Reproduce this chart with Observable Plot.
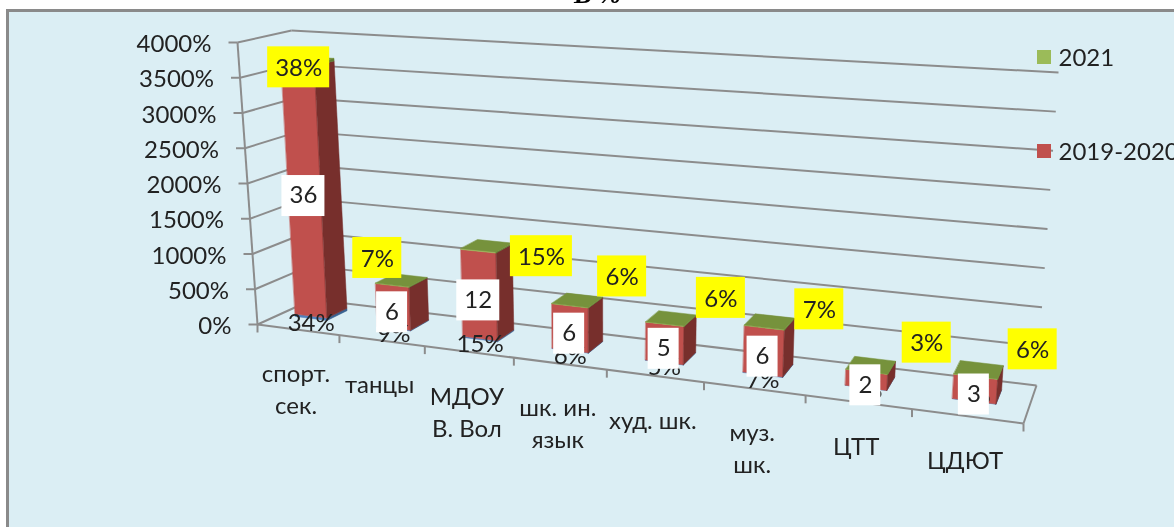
<!DOCTYPE html>
<html><head><meta charset="utf-8">
<script src="https://cdn.jsdelivr.net/npm/d3@7"></script>
<script src="https://cdn.jsdelivr.net/npm/@observablehq/plot@0.6"></script>
<style>html,body{margin:0;padding:0;background:#fff;overflow:hidden}svg{display:block}</style>
</head><body><div id="chart"></div>
<script>
// --- data ---
const categories = ["спорт.\nсек.", "танцы", "МДОУ\nВ. Вол", "шк. ин.\nязык", "худ. шк.", "муз.\nшк.", "ЦТТ", "ЦДЮТ"];
const baseValues = [34, 9, 15, 6, 5, 7, 2, 3];       // lower series, in %, mostly hidden
const midValues = [36, 6, 12, 6, 5, 6, 2, 3];        // 2019-2020, plotted as units (1 = 100%)
const topValues = [38, 7, 15, 6, 6, 7, 3, 6];        // 2021, in %
const valueTicks = [0, 500, 1000, 1500, 2000, 2500, 3000, 3500, 4000];
const legendNames = ["2021", "2019-2020"];

// --- hand-placed yellow labels in the original: pixel nudges from the bar's top ---
const topLabelNudge = [[1,5],[-15,-27],[63,6],[52,-29],[56,-26],[55,-18],[60,-29],[57,-27]];
const baseLabelNudge = [5,5,5,5,5,5,2,-6];

// --- perspective box of the 3D chart ---
const W = 1174, H = 527;
const box = {fbl:[257,324], ftl:[237,42], bbl:[312,299], btl:[291,30],
             fbr:[1023,423], ftr:[1048,83], bbr:[1036,385], btr:[1058,72]};
const nCat = categories.length;
const warp = u => { const b = -0.0202, a = (1 + nCat*b)/nCat; return a*u/(1 + b*u); };
const lerp = (p, q, t) => [p[0] + (q[0]-p[0])*t, p[1] + (q[1]-p[1])*t];
function project(u, v, d) {
  const t = warp(u), s = v/4000;
  const fb = lerp(box.fbl, box.fbr, t), ft = lerp(box.ftl, box.ftr, t);
  const bb = lerp(box.bbl, box.bbr, t), bt = lerp(box.btl, box.btr, t);
  return lerp(lerp(fb, ft, s), lerp(bb, bt, s), d);
}
// the columns lean slightly less than the wall edge on the left side
const barProject = (u, v, d) => { const p = project(u, v, d); return [p[0] + 4*(v/4000)*(1 - warp(u)), p[1]]; };

const barStart = i => i + 0.2 + 0.015*i, barWidth = 0.4, d0 = 0.4, d1 = 0.78;
const colors = {
  base: {front:"#4f81bd", side:"#3a6291"},
  mid:  {front:"#c0504d", side:"#772f2c"},
  top:  {front:"#9bbb59", side:"#5f7a32", cap:"#76923c"}
};

// polygons of the bars
const polys = [];
let pid = 0;
function poly(pts, fill) { const id = pid++; pts.forEach(p => polys.push({id, x:p[0], y:p[1], fill})); }
categories.forEach((c, i) => {
  const u0 = barStart(i), u1 = u0 + barWidth, P = barProject;
  const segs = [[0, baseValues[i], colors.base], [baseValues[i], baseValues[i] + midValues[i]*100, colors.mid],
                [baseValues[i] + midValues[i]*100, baseValues[i] + midValues[i]*100 + topValues[i], colors.top]];
  for (const [a, b, col] of segs) {
    poly([P(u0,a,d0), P(u1,a,d0), P(u1,b,d0), P(u0,b,d0)], col.front);
    poly([P(u1,a,d0), P(u1,a,d1), P(u1,b,d1), P(u1,b,d0)], col.side);
    if (col.cap) poly([P(u0,b,d0), P(u1,b,d0), P(u1,b,d1), P(u0,b,d1)], col.cap);
  }
});

const total = i => baseValues[i] + midValues[i]*100 + topValues[i];
const rows = categories.map((c, i) => {
  const uc = barStart(i) + barWidth/2;
  const mid = barProject(uc, baseValues[i] + midValues[i]*50, d0);
  const topP = barProject(uc, total(i), d0);
  const baseP = barProject(uc, 0, d0);
  const floor = project(i + 0.5, 0, 0);
  const n = topLabelNudge[i];
  return {i, c, mid:[mid[0]-1, mid[1]+3], base:[baseP[0], baseP[1]+baseLabelNudge[i]], floor:[floor[0]-2, floor[1]],
    top:[topP[0]+n[0], topP[1]+n[1]],
    midText:String(midValues[i]), topText:topValues[i]+"%", baseText:baseValues[i]+"%"};
});
function whiteW(d){ return d.midText.length > 1 ? 43 : 31; }
function yellowW(d){ return d.topText.length > 2 ? 62 : 49; }

const gridBack = valueTicks.map(v => ({a:project(0,v,1), b:project(nCat,v,1)}));
const gridLeft = valueTicks.map(v => ({a:project(0,v,0), b:project(0,v,1)}));
const edges = [
  {a:project(0,0,0), b:project(0,4000,0)},
  {a:project(0,0,0), b:project(nCat,0,0)},
  {a:project(nCat,0,0), b:project(nCat,0,1)}
];
const catTicks = d3.range(nCat+1).map(u => project(u,0,0));
const gray = "#8c8c8c";
const fam = "Lato, 'Open Sans', sans-serif";
const fs = 24;

const chart = Plot.plot({
  width: W, height: H, margin: 0,
  x: {type:"linear", domain:[0,W], range:[0,W], axis:null},
  y: {type:"linear", domain:[0,H], range:[0,H], axis:null},
  color: {type:"identity"},
  style: {background:"#fff", fontFamily:fam, filter:"blur(0.4px)"},
  marks: [
    // panel
    Plot.rect([{}], {x1:()=>7.5, x2:()=>W+20, y1:()=>10.5, y2:()=>H+20, fill:"#dbeef4", stroke:"#8a8a8a", strokeWidth:3}),
    Plot.text(["В %"], {x:()=>597, y:()=>2, text:d=>d, lineAnchor:"bottom", fontFamily:"'Liberation Serif', serif", fontWeight:"bold", fontStyle:"italic", fontSize:27, fill:"#000"}),
    // walls and floor
    Plot.link(gridBack, {x1:d=>d.a[0], y1:d=>d.a[1], x2:d=>d.b[0], y2:d=>d.b[1], stroke:gray, strokeWidth:2}),
    Plot.link(gridLeft, {x1:d=>d.a[0], y1:d=>d.a[1], x2:d=>d.b[0], y2:d=>d.b[1], stroke:gray, strokeWidth:2}),
    Plot.link(edges, {x1:d=>d.a[0], y1:d=>d.a[1], x2:d=>d.b[0], y2:d=>d.b[1], stroke:gray, strokeWidth:2}),
    // ticks
    Plot.link(gridLeft, {x1:d=>d.a[0]-9, y1:d=>d.a[1], x2:d=>d.a[0], y2:d=>d.a[1], stroke:gray, strokeWidth:2}),
    Plot.link(catTicks, {x1:d=>d[0], y1:d=>d[1], x2:d=>d[0], y2:d=>d[1]+8, stroke:gray, strokeWidth:2}),
    Plot.text(valueTicks, {x:v=>project(0,v,0)[0]-26, y:v=>project(0,v,0)[1]+2, text:v=>v+"%", textAnchor:"end", fontSize:fs, fill:"#222"}),
    // bars
    Plot.line(polys, {x:"x", y:"y", z:"id", fill:"fill", stroke:"fill", strokeWidth:0.5, curve:"linear-closed"}),
    // lower-series labels, partly covered by the white boxes
    Plot.text(rows, {x:d=>d.base[0], y:d=>d.base[1], text:"baseText", fontSize:fs, fill:"#222"}),
    // 2019-2020 labels
    Plot.rect(rows, {x1:d=>d.mid[0]-whiteW(d)/2, x2:d=>d.mid[0]+whiteW(d)/2, y1:d=>d.mid[1]-18, y2:d=>d.mid[1]+23, fill:"#fff"}),
    Plot.text(rows, {x:d=>d.mid[0], y:d=>d.mid[1]+2, text:"midText", fontSize:fs, fill:"#222"}),
    // 2021 labels
    Plot.rect(rows, {x1:d=>d.top[0]-yellowW(d)/2, x2:d=>d.top[0]+yellowW(d)/2, y1:d=>d.top[1]-20.5, y2:d=>d.top[1]+20.5, fill:"#ffff00"}),
    Plot.text(rows, {x:d=>d.top[0], y:d=>d.top[1]+1, text:"topText", fontSize:fs, fill:"#222"}),
    // axis category labels
    Plot.text(rows, {x:d=>d.floor[0], y:d=>d.floor[1]+30, text:"c", lineAnchor:"top", lineHeight:32/24, fontSize:24, fill:"#222"}),
    // legend
    Plot.rect(legendNames, {x1:()=>1037, x2:()=>1051, y1:(d,i)=>50+i*94, y2:(d,i)=>64+i*94, fill:(d,i)=>i?colors.mid.front:colors.top.front}),
    Plot.text(legendNames, {x:()=>1058, y:(d,i)=>58+i*94, text:d=>d, textAnchor:"start", fontSize:fs, fill:"#222"})
  ]
});
document.getElementById("chart").append(chart);
</script></body></html>
